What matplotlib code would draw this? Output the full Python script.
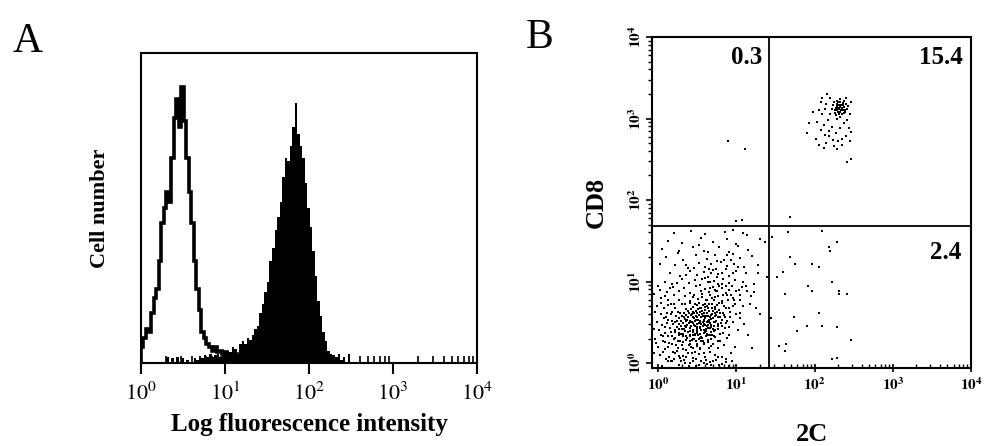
import matplotlib.pyplot as plt
import numpy as np

plt.rcParams['font.family'] = ['Liberation Serif', 'DejaVu Serif']
plt.rcParams['mathtext.fontset'] = 'stix'

#-------------------------- DATOS PANEL A --------------------------------
# Histogramas en decadas log10, intervalos de 0.03 decadas, altura en %
ancho = 0.03
inicio_abierto = 0.0
abierto = [5, 8, 11, 10, 16, 21, 24, 33, 45, 50, 55, 52, 66, 79, 85, 76, 89, 78,
           66, 55, 45, 33, 24, 17, 10, 8, 6, 5, 4, 5, 3.5, 4, 3, 3.5, 2, 3, 2.5,
           3, 1.5, 2, 1, 1.5, 0.5, 0]

inicio_lleno = 0.30
lleno = [2, 0, 1.5, 0, 2, 0, 1.5, 0, 1, 0, 0, 1.5, 1, 2, 1.5, 2.5, 2, 3, 2,
         2.5, 3, 2, 3.5, 3, 4, 3.5, 5, 4.5, 3, 6, 7, 6, 8, 7.5, 9, 11, 12, 16,
         19, 23, 26, 33, 37, 43, 47, 52, 60, 66, 65, 70, 76, 84, 74, 70, 66,
         58, 50, 44, 36, 28, 20, 15, 10, 7, 4, 3, 2.5, 2, 3, 1, 2, 0, 3, 0]

#-------------------------- DATOS PANEL B --------------------------------
# Puntos (log10 2C, log10 CD8)
abajo_izq = np.array([
    (0.05, -0.03), (0.18, 0.02), (0.27, -0.02), (0.33, 0.04), (0.41, 0.0), (0.48, -0.03),
    (0.55, 0.03), (0.62, -0.01), (0.70, 0.02), (0.78, -0.02), (0.86, 0.01), (0.90, -0.03),
    (0.12, 0.03), (0.58, 0.0), (0.74, 0.04),
    (0.02, 0.10), (0.14, 0.07), (0.22, 0.12), (0.31, 0.09), (0.38, 0.13), (0.44, 0.06),
    (0.52, 0.11), (0.60, 0.08), (0.66, 0.14), (0.72, 0.10), (0.81, 0.07), (0.93, 0.12),
    (0.47, 0.14), (0.28, 0.06),
    (0.0, 0.20), (0.09, 0.17), (0.17, 0.23), (0.25, 0.18), (0.30, 0.22), (0.36, 0.16),
    (0.40, 0.24), (0.45, 0.19), (0.50, 0.21), (0.54, 0.17), (0.59, 0.23), (0.65, 0.19),
    (0.70, 0.24), (0.77, 0.18), (0.84, 0.22), (0.98, 0.20), (1.20, 0.19), (0.42, 0.20),
    (-0.04, 0.30), (0.06, 0.27), (0.12, 0.33), (0.20, 0.29), (0.26, 0.34), (0.32, 0.26),
    (0.37, 0.31), (0.43, 0.28), (0.47, 0.34), (0.52, 0.30), (0.57, 0.27), (0.61, 0.33),
    (0.67, 0.29), (0.73, 0.32), (0.79, 0.27), (0.88, 0.31), (0.35, 0.33), (0.55, 0.32),
    (0.64, 0.26),
    (0.01, 0.40), (0.08, 0.37), (0.15, 0.43), (0.21, 0.38), (0.27, 0.42), (0.31, 0.36),
    (0.36, 0.44), (0.40, 0.39), (0.45, 0.41), (0.49, 0.37), (0.53, 0.44), (0.58, 0.40),
    (0.62, 0.36), (0.66, 0.43), (0.71, 0.39), (0.76, 0.42), (0.83, 0.37), (0.90, 0.44),
    (1.02, 0.40), (0.50, 0.42), (0.60, 0.38), (0.34, 0.39),
    (-0.02, 0.50), (0.05, 0.47), (0.13, 0.53), (0.19, 0.48), (0.24, 0.52), (0.29, 0.46),
    (0.34, 0.54), (0.39, 0.49), (0.43, 0.51), (0.47, 0.46), (0.51, 0.53), (0.55, 0.48),
    (0.59, 0.52), (0.63, 0.47), (0.68, 0.54), (0.72, 0.50), (0.77, 0.46), (0.82, 0.53),
    (0.87, 0.49), (0.95, 0.51), (1.10, 0.48), (0.57, 0.50), (0.65, 0.51), (0.45, 0.49),
    (0.03, 0.60), (0.10, 0.57), (0.17, 0.63), (0.23, 0.58), (0.28, 0.62), (0.33, 0.56),
    (0.38, 0.64), (0.42, 0.59), (0.46, 0.61), (0.50, 0.57), (0.54, 0.63), (0.58, 0.58),
    (0.62, 0.62), (0.66, 0.56), (0.70, 0.64), (0.74, 0.59), (0.79, 0.61), (0.85, 0.57),
    (0.92, 0.63), (1.00, 0.60), (0.56, 0.60), (0.60, 0.65), (0.48, 0.64),
    (-0.01, 0.70), (0.07, 0.67), (0.16, 0.73), (0.22, 0.68), (0.30, 0.72), (0.36, 0.66),
    (0.41, 0.74), (0.45, 0.69), (0.50, 0.71), (0.55, 0.67), (0.60, 0.73), (0.64, 0.68),
    (0.69, 0.72), (0.73, 0.66), (0.78, 0.74), (0.84, 0.70), (0.91, 0.67), (0.98, 0.73),
    (1.08, 0.70), (1.25, 0.68), (0.62, 0.70), (0.52, 0.74),
    (0.04, 0.80), (0.12, 0.77), (0.20, 0.83), (0.27, 0.78), (0.34, 0.82), (0.40, 0.76),
    (0.46, 0.84), (0.51, 0.79), (0.56, 0.81), (0.61, 0.77), (0.66, 0.83), (0.71, 0.78),
    (0.76, 0.82), (0.82, 0.76), (0.88, 0.84), (0.95, 0.80), (1.05, 0.78), (1.18, 0.82),
    (0.69, 0.80),
    (0.02, 0.90), (0.11, 0.87), (0.19, 0.93), (0.26, 0.88), (0.33, 0.92), (0.41, 0.86),
    (0.48, 0.94), (0.55, 0.89), (0.60, 0.91), (0.65, 0.87), (0.70, 0.93), (0.75, 0.88),
    (0.81, 0.92), (0.87, 0.86), (0.94, 0.94), (1.03, 0.90), (1.13, 0.88), (0.72, 0.90),
    (0.08, 1.00), (0.18, 0.97), (0.30, 1.03), (0.39, 0.98), (0.47, 1.02), (0.54, 0.96),
    (0.60, 1.04), (0.66, 0.99), (0.71, 1.01), (0.77, 0.97), (0.83, 1.03), (0.90, 0.98),
    (0.98, 1.02), (1.08, 1.00), (1.22, 0.97), (0.63, 1.00),
    (0.15, 1.10), (0.28, 1.07), (0.40, 1.13), (0.50, 1.08), (0.58, 1.12), (0.64, 1.06),
    (0.70, 1.14), (0.76, 1.09), (0.82, 1.11), (0.90, 1.07), (0.99, 1.13), (1.12, 1.10),
    (0.68, 1.10),
    (0.22, 1.20), (0.38, 1.17), (0.52, 1.23), (0.60, 1.18), (0.67, 1.22), (0.74, 1.16),
    (0.80, 1.24), (0.88, 1.19), (0.97, 1.21), (1.10, 1.18), (1.28, 1.20),
    (0.10, 1.30), (0.32, 1.27), (0.48, 1.33), (0.62, 1.28), (0.72, 1.32), (0.84, 1.26),
    (0.95, 1.34), (1.05, 1.29), (1.20, 1.31),
    (0.05, 1.40), (0.27, 1.37), (0.44, 1.43), (0.58, 1.38), (0.78, 1.42), (0.90, 1.36),
    (1.02, 1.44), (1.15, 1.39),
    (0.12, 1.50), (0.30, 1.47), (0.55, 1.53), (0.70, 1.48), (0.88, 1.52), (1.00, 1.46),
    (1.30, 1.52),
    (0.20, 1.60), (0.42, 1.62), (0.60, 1.58), (0.85, 1.61), (0.95, 1.63), (1.08, 1.60),
    (1.14, 1.57), (1.36, 1.49), (1.39, 1.06)])

# Nucleo denso de la poblacion doble negativa
nucleo = np.array([
    (0.21, 0.31), (0.24, 0.44), (0.27, 0.55), (0.29, 0.36), (0.31, 0.49), (0.33, 0.61),
    (0.35, 0.28), (0.37, 0.47), (0.38, 0.57), (0.40, 0.33), (0.41, 0.52), (0.42, 0.66),
    (0.44, 0.38), (0.44, 0.57), (0.46, 0.29), (0.46, 0.47), (0.47, 0.72), (0.48, 0.53),
    (0.49, 0.41), (0.50, 0.62), (0.51, 0.35), (0.52, 0.49), (0.53, 0.68), (0.54, 0.43),
    (0.55, 0.56), (0.56, 0.31), (0.57, 0.45), (0.57, 0.71), (0.58, 0.53), (0.59, 0.62),
    (0.60, 0.47), (0.61, 0.39), (0.61, 0.58), (0.62, 0.77), (0.63, 0.52), (0.64, 0.43),
    (0.65, 0.64), (0.66, 0.49), (0.67, 0.59), (0.68, 0.38), (0.69, 0.68), (0.70, 0.55),
    (0.71, 0.46), (0.72, 0.81), (0.73, 0.61), (0.74, 0.52), (0.75, 0.71), (0.77, 0.57),
    (0.78, 0.65), (0.80, 0.49), (0.81, 0.74), (0.83, 0.62), (0.86, 0.68), (0.89, 0.78),
    (0.92, 0.56),
    (0.14, 0.25), (0.16, 0.38), (0.18, 0.52), (0.19, 0.14), (0.23, 0.22), (0.25, 0.63),
    (0.26, 0.09), (0.28, 0.27), (0.32, 0.17), (0.34, 0.72), (0.36, 0.08), (0.39, 0.22),
    (0.43, 0.13), (0.45, 0.81), (0.49, 0.24), (0.53, 0.18), (0.56, 0.85), (0.59, 0.12),
    (0.63, 0.28), (0.66, 0.92), (0.68, 0.21), (0.71, 0.33), (0.74, 0.88), (0.76, 0.27),
    (0.79, 0.36), (0.82, 0.97), (0.85, 0.43), (0.87, 0.95), (0.90, 0.35), (0.93, 0.83),
    (0.96, 0.70), (1.00, 0.88), (1.04, 0.62), (1.07, 0.93),
    (0.06, 0.14), (0.09, 0.44), (0.11, 0.62), (0.13, 0.20), (0.03, 0.35), (0.07, 0.55),
    (0.10, 0.05), (0.20, 0.05), (0.34, 0.0), (0.44, 0.02), (0.52, -0.02), (0.66, 0.01),
    (0.82, -0.01), (0.08, 0.82), (0.15, 0.92), (0.24, 0.98), (0.36, 1.08), (0.46, 1.17),
    (0.56, 1.03), (0.65, 1.15), (0.75, 1.05), (0.86, 1.15), (0.93, 1.26), (1.02, 1.18),
    (0.44, 0.30), (0.50, 0.44), (0.54, 0.36), (0.58, 0.25), (0.62, 0.45), (0.66, 0.34),
    (0.70, 0.42), (0.48, 0.58), (0.52, 0.59), (0.39, 0.62), (0.35, 0.52), (0.30, 0.42),
    (0.42, 0.46), (0.60, 0.55), (0.64, 0.58), (0.68, 0.47), (0.72, 0.58), (0.55, 0.40),
    (0.47, 0.36), (0.40, 0.43),
    (0.22, 0.40), (0.25, 0.27), (0.27, 0.48), (0.30, 0.58), (0.32, 0.33), (0.34, 0.45),
    (0.36, 0.59), (0.38, 0.38), (0.40, 0.50), (0.41, 0.27), (0.43, 0.60), (0.45, 0.34),
    (0.47, 0.52), (0.48, 0.27), (0.50, 0.39), (0.51, 0.66), (0.53, 0.51), (0.55, 0.27),
    (0.56, 0.64), (0.58, 0.37), (0.60, 0.69), (0.62, 0.50), (0.63, 0.35), (0.65, 0.73),
    (0.67, 0.44), (0.69, 0.60), (0.71, 0.51), (0.73, 0.40), (0.75, 0.63), (0.77, 0.48),
    (0.79, 0.56), (0.82, 0.45), (0.84, 0.59), (0.88, 0.52), (0.26, 0.37), (0.29, 0.52),
    (0.33, 0.42), (0.37, 0.53), (0.41, 0.35), (0.45, 0.63), (0.49, 0.48), (0.53, 0.31),
    (0.57, 0.58), (0.61, 0.42), (0.65, 0.53), (0.69, 0.35), (0.73, 0.69), (0.54, 0.52),
    (0.46, 0.55), (0.58, 0.48)])

# Puntos dispersos en los bordes de la poblacion doble negativa
borde = np.array([
    (-0.05, 0.12), (-0.05, 0.42), (-0.04, 0.63), (-0.05, 0.85), (-0.03, 0.25), (0.0, 0.95),
    (0.02, 1.22), (0.04, 0.74), (0.06, 0.33), (0.09, 0.26), (0.11, 0.49), (0.13, 0.71),
    (0.16, 0.60), (0.18, 0.33), (0.20, 0.72), (0.22, 0.50), (0.24, 0.15), (0.16, 0.02),
    (0.29, 0.02), (0.39, -0.03), (0.48, 0.05), (0.61, 0.04), (0.68, -0.02), (0.76, 0.07),
    (0.87, 0.05), (0.94, 0.02),
    (0.78, 0.95), (0.83, 0.84), (0.90, 0.90), (0.97, 0.77), (1.05, 0.84), (1.12, 0.95),
    (1.17, 0.72), (1.23, 0.87), (1.27, 1.10), (1.30, 0.60), (1.15, 0.35), (1.05, 0.55),
    (0.96, 1.10), (0.88, 1.32), (0.75, 1.25), (0.64, 1.36), (0.52, 1.45), (0.35, 1.20),
    (0.25, 1.35)])

arriba_der = np.array([
    (2.28, 3.15), (2.31, 3.12), (2.34, 3.17), (2.30, 3.08), (2.36, 3.10), (2.26, 3.10),
    (2.33, 3.20), (2.38, 3.14), (2.29, 3.18), (2.35, 3.05), (2.40, 3.18), (2.32, 3.02),
    (2.27, 3.04), (2.37, 3.22), (2.24, 3.16), (2.39, 3.08), (2.30, 3.13), (2.34, 3.11),
    (2.41, 3.12), (2.36, 3.16), (2.22, 3.12), (2.28, 3.00), (2.33, 3.24), (2.43, 3.15),
    (2.25, 3.20), (2.31, 3.17), (2.29, 3.10), (2.32, 3.14), (2.35, 3.13), (2.30, 3.20),
    (2.27, 3.13), (2.37, 3.07), (2.33, 3.08), (2.26, 3.07), (2.39, 3.11), (2.31, 3.05),
    (2.36, 3.19), (2.28, 3.22),
    (2.10, 3.05), (2.13, 3.12), (2.17, 2.98), (2.08, 3.20), (2.15, 3.18), (2.20, 3.06),
    (2.05, 3.10), (2.12, 2.92), (2.18, 2.85), (2.22, 2.90), (2.27, 2.82), (2.32, 2.88),
    (2.38, 2.95), (2.42, 2.98), (2.45, 3.05), (2.44, 2.88), (2.47, 2.83), (2.40, 2.78),
    (2.35, 2.75), (2.30, 2.72), (2.24, 2.74), (2.19, 2.78), (2.13, 2.80), (2.08, 2.86),
    (2.03, 2.96), (1.98, 3.08), (1.93, 2.95), (1.90, 2.82), (2.02, 2.75), (2.15, 2.70),
    (2.25, 2.66), (2.35, 2.68), (2.45, 2.72), (2.10, 3.25), (2.20, 3.25), (2.40, 3.25),
    (2.16, 3.30), (2.46, 3.20), (2.06, 2.68), (2.28, 2.62), (2.12, 2.64),
    (2.42, 2.47), (2.46, 2.50), (1.69, 1.79)])

arriba_izq = np.array([(0.89, 2.73), (1.11, 2.62), (1.07, 1.76), (1.00, 1.74)])

abajo_der = np.array([
    (1.46, 1.55), (1.66, 1.61), (2.10, 1.62), (2.28, 1.49), (2.18, 1.43), (2.20, 1.37),
    (1.69, 1.30), (1.75, 1.21), (1.96, 1.22), (2.06, 1.18), (1.59, 1.12), (1.52, 1.05),
    (1.91, 0.94), (1.96, 0.89), (2.22, 0.99), (2.31, 0.89), (2.31, 0.85), (2.42, 0.85),
    (1.62, 0.85), (2.06, 0.62), (1.73, 0.57), (1.44, 0.55), (2.10, 0.46), (1.90, 0.45),
    (2.29, 0.44), (1.77, 0.39), (2.46, 0.28), (1.55, 0.21), (1.64, 0.23), (1.62, 0.15),
    (2.22, 0.05), (2.28, 0.06)])

# Limites de los cuadrantes y porcentajes
corte_2c = 10**1.41
corte_cd8 = 10**1.68
porcentajes = ['0.3', '15.4', '2.4']

decadas = [1, 10, 100, 1000, 10000]
etiquetas_a = [r'$10^{0}$', r'$10^{1}$', r'$10^{2}$', r'$10^{3}$', r'$10^{4}$']
etiquetas_b = [r'$\mathbf{10^{0}}$', r'$\mathbf{10^{1}}$', r'$\mathbf{10^{2}}$',
               r'$\mathbf{10^{3}}$', r'$\mathbf{10^{4}}$']

#-------------------------- FIGURA ---------------------------------------
fig = plt.figure(figsize=(9.9, 4.46), dpi=100)
menores = [m * d for d in [1, 10, 100, 1000] for m in range(2, 10)]

# Panel A
axA = fig.add_axes([0.1424, 0.1861, 0.3394, 0.6951])
bordes_ab = 10**(inicio_abierto + ancho * np.arange(len(abierto) + 1))
bordes_ll = 10**(inicio_lleno + ancho * np.arange(len(lleno) + 1))
axA.stairs(lleno, bordes_ll, fill=True, color='black')
axA.stairs(abierto, bordes_ab, color='black', lw=2.6)
axA.set_xscale('log')
axA.set_xlim(1, 1e4)
axA.set_ylim(0, 100)
axA.set_yticks([])
axA.set_xticks(decadas)
axA.set_xticklabels(etiquetas_a, fontsize=16)
axA.set_xticks(menores, minor=True)
axA.xaxis.set_minor_formatter(plt.NullFormatter())
axA.tick_params(axis='x', which='major', direction='out', length=8, width=1.5, pad=6)
axA.tick_params(axis='x', which='minor', direction='in', length=5, width=1.2)
for s in axA.spines.values():
    s.set_linewidth(1.5)
axA.set_xlabel('Log fluorescence intensity', fontsize=18, fontweight='bold', labelpad=6)
axA.set_ylabel('Cell number', fontsize=16, fontweight='bold', labelpad=22)

# Panel B
axB = fig.add_axes([0.6586, 0.1749, 0.3222, 0.7422])
for pts in [abajo_izq, nucleo, borde, arriba_der, arriba_izq, abajo_der]:
    axB.plot(10**pts[:, 0], 10**pts[:, 1], 's', ms=2.0, mew=0, color='black')
axB.axvline(corte_2c, color='black', lw=1.3)
axB.axhline(corte_cd8, color='black', lw=1.3)
axB.set_xscale('log')
axB.set_yscale('log')
axB.set_xlim(10**-0.08, 1e4)
axB.set_ylim(10**-0.06, 1e4)
axB.set_xticks(decadas)
axB.set_xticklabels(etiquetas_b, fontsize=11)
axB.set_yticks(decadas)
axB.set_yticklabels(etiquetas_b, fontsize=11, rotation=90, va='center')
axB.set_xticks(menores, minor=True)
axB.set_yticks(menores, minor=True)
axB.xaxis.set_minor_formatter(plt.NullFormatter())
axB.yaxis.set_minor_formatter(plt.NullFormatter())
axB.tick_params(axis='x', which='major', direction='inout', length=6, width=1.2, pad=3)
axB.tick_params(axis='x', which='minor', direction='in', length=3, width=1)
axB.tick_params(axis='y', which='major', direction='out', length=4, width=1.2, pad=2)
axB.tick_params(axis='y', which='minor', direction='out', length=3, width=1)
for s in axB.spines.values():
    s.set_linewidth(1.5)

axB.text(0.345, 0.937, porcentajes[0], transform=axB.transAxes, ha='right', va='center',
         fontsize=18, fontweight='bold')
axB.text(0.975, 0.937, porcentajes[1], transform=axB.transAxes, ha='right', va='center',
         fontsize=18, fontweight='bold')
axB.text(0.969, 0.35, porcentajes[2], transform=axB.transAxes, ha='right', va='center',
         fontsize=18, fontweight='bold')
axB.set_xlabel('2C', fontsize=19, fontweight='bold', labelpad=22)
axB.set_ylabel('CD8', fontsize=19, fontweight='bold', labelpad=14)

# Letras de los paneles
fig.text(0.028, 0.906, 'A', fontsize=30, ha='center', va='center')
fig.text(0.545, 0.915, 'B', fontsize=30, ha='center', va='center')

fig.savefig('out.png', dpi=100)
